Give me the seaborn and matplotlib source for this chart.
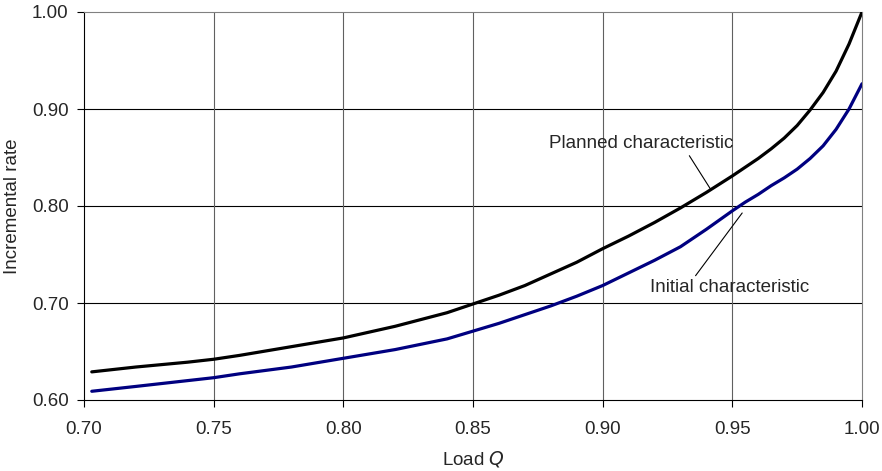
import matplotlib
matplotlib.use("Agg")
import matplotlib.pyplot as plt
import seaborn as sns
import pandas as pd

# Data
load_q = [0.703, 0.72, 0.74, 0.75, 0.76, 0.78, 0.80, 0.82, 0.84, 0.85, 0.86, 0.87, 0.88,
          0.89, 0.90, 0.91, 0.92, 0.93, 0.94, 0.95, 0.955, 0.96, 0.965, 0.97, 0.975,
          0.98, 0.985, 0.99, 0.995, 1.00]
planned = [0.629, 0.634, 0.639, 0.642, 0.646, 0.655, 0.664, 0.676, 0.690, 0.699, 0.708, 0.718, 0.730,
           0.742, 0.756, 0.769, 0.783, 0.798, 0.814, 0.831, 0.840, 0.849, 0.859, 0.870, 0.883,
           0.899, 0.917, 0.939, 0.967, 1.000]
initial = [0.609, 0.614, 0.620, 0.623, 0.627, 0.634, 0.643, 0.652, 0.663, 0.671, 0.679, 0.688, 0.697,
           0.707, 0.718, 0.731, 0.744, 0.758, 0.776, 0.795, 0.804, 0.812, 0.821, 0.829, 0.838,
           0.849, 0.862, 0.879, 0.900, 0.926]
series_names = ["Planned characteristic", "Initial characteristic"]
x_ticks = [0.70, 0.75, 0.80, 0.85, 0.90, 0.95, 1.00]
y_ticks = [0.60, 0.70, 0.80, 0.90, 1.00]

df = pd.DataFrame({
    "Load": load_q * 2,
    "Rate": planned + initial,
    "Series": [series_names[0]] * len(load_q) + [series_names[1]] * len(load_q),
})

sns.set_style("white")
plt.rcParams["font.family"] = ["Liberation Sans", "DejaVu Sans"]
FS = 13.5

fig = plt.figure(figsize=(8.82, 4.71), dpi=100)
ax = fig.add_axes([84 / 882, 1 - 400 / 471, (862 - 84) / 882, (400 - 12) / 471])

sns.lineplot(data=df, x="Load", y="Rate", hue="Series",
             palette={series_names[0]: "#000000", series_names[1]: "#000080"},
             linewidth=2.3, legend=False, ax=ax, zorder=3)

ax.set_xlim(0.70, 1.00)
ax.set_ylim(0.60, 1.00)
ax.set_xticks(x_ticks)
ax.set_yticks(y_ticks)
ax.set_xticklabels([f"{v:.2f}" for v in x_ticks], fontsize=FS)
ax.set_yticklabels([f"{v:.2f}" for v in y_ticks], fontsize=FS)

for v in y_ticks[1:-1]:
    ax.axhline(v, color="#000000", linewidth=0.8, zorder=1)
for v in x_ticks[1:-1]:
    ax.axvline(v, color="#606060", linewidth=0.8, zorder=1)

for s in ["top", "right"]:
    ax.spines[s].set_color("#808080")
    ax.spines[s].set_linewidth(0.8)
for s in ["left", "bottom"]:
    ax.spines[s].set_color("#000000")
    ax.spines[s].set_linewidth(0.8)

ax.tick_params(axis="both", which="major", direction="out", length=5, width=0.8,
               color="#000000", bottom=True, left=True, pad=6)
ax.tick_params(axis="x", pad=10)

ax.set_xlabel("Load $\\mathit{Q}$", fontsize=FS, labelpad=8)
ax.set_ylabel("Incremental rate", fontsize=FS, labelpad=8)

ax.annotate(series_names[0], xy=(0.9418, 0.8165), xytext=(0.8793, 0.864),
            fontsize=FS, va="center", ha="left",
            arrowprops=dict(arrowstyle="-", color="#000000", linewidth=0.8,
                            shrinkA=0, shrinkB=0, relpos=(0.75, 0.0)))
ax.annotate(series_names[1], xy=(0.9538, 0.7928), xytext=(0.9183, 0.716),
            fontsize=FS, va="center", ha="left",
            arrowprops=dict(arrowstyle="-", color="#000000", linewidth=0.8,
                            shrinkA=0, shrinkB=0, relpos=(0.27, 1.0)))

fig.savefig("out.png", dpi=100)
